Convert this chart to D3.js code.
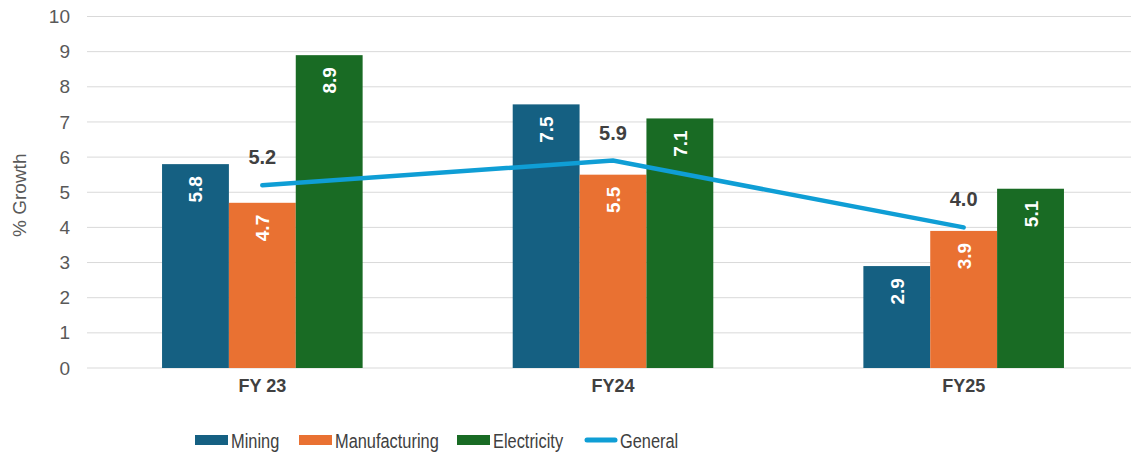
<!DOCTYPE html>
<html>
<head>
<meta charset="utf-8">
<script src="https://cdn.jsdelivr.net/npm/d3@7"></script>
<style>
  body { margin: 0; background: #fff; }
  svg { display: block; font-family: "Liberation Sans", Arial, sans-serif; }
</style>
</head>
<body>
<svg id="chart" width="1131" height="453"></svg>
<script>
// data
const categories = ["FY 23", "FY24", "FY25"];
const mining = [5.8, 7.5, 2.9];
const manufacturing = [4.7, 5.5, 3.9];
const electricity = [8.9, 7.1, 5.1];
const general = [5.2, 5.9, 4.0];
const yTicks = [0, 1, 2, 3, 4, 5, 6, 7, 8, 9, 10];

const series = [
  { name: "Mining", values: mining, color: "#156082" },
  { name: "Manufacturing", values: manufacturing, color: "#E97132" },
  { name: "Electricity", values: electricity, color: "#196B24" }
];
const lineColor = "#0F9ED5";

const svg = d3.select("#chart");
const width = 1131, height = 453;
const plot = { left: 87, right: 1139, top: 16.5, bottom: 368 };

// scales
const x = d3.scaleBand().domain(categories).range([plot.left, plot.right]).padding(0);
const step = x.bandwidth();
const xs = d3.scaleBand().domain(series.map(s => s.name))
  .range([step * 0.214, step * 0.786]).padding(0);
const y = d3.scaleLinear().domain([0, 10]).range([plot.bottom, plot.top]);

// gridlines
svg.append("g")
  .selectAll("line")
  .data(yTicks)
  .join("line")
  .attr("x1", plot.left)
  .attr("x2", width)
  .attr("y1", d => y(d))
  .attr("y2", d => y(d))
  .attr("stroke", "#d9d9d9")
  .attr("stroke-width", 1);

// y axis labels
svg.append("g")
  .attr("transform", `translate(${plot.left - 14},0)`)
  .call(d3.axisLeft(y).tickValues(yTicks).tickSize(0).tickFormat(d3.format("d")))
  .call(g => g.select(".domain").remove())
  .selectAll("text")
  .attr("fill", "#595959")
  .style("font-size", "19px")
  .style("font-family", "Liberation Sans, Arial, sans-serif");

svg.append("text")
  .attr("transform", `translate(26,${(plot.top + plot.bottom) / 2 + 3}) rotate(-90)`)
  .attr("text-anchor", "middle")
  .attr("fill", "#595959")
  .style("font-size", "19px")
  .text("% Growth");

// x axis labels
svg.append("g")
  .attr("transform", `translate(0,${plot.bottom + 8})`)
  .call(d3.axisBottom(x).tickSize(0))
  .call(g => g.select(".domain").remove())
  .selectAll("text")
  .attr("fill", "#404040")
  .style("font-size", "18px")
  .style("font-weight", "bold")
  .style("font-family", "Liberation Sans, Arial, sans-serif");

// bars
series.forEach(s => {
  const g = svg.append("g");
  g.selectAll("rect")
    .data(s.values)
    .join("rect")
    .attr("x", (d, i) => x(categories[i]) + xs(s.name))
    .attr("y", d => y(d))
    .attr("width", xs.bandwidth())
    .attr("height", d => y(0) - y(d))
    .attr("fill", s.color);
  g.selectAll("text")
    .data(s.values)
    .join("text")
    .attr("transform", (d, i) =>
      `translate(${x(categories[i]) + xs(s.name) + xs.bandwidth() / 2 + 7},${y(d) + 12}) rotate(-90)`)
    .attr("text-anchor", "end")
    .attr("fill", "#fff")
    .style("font-size", "19px")
    .style("font-weight", "bold")
    .text(d => d.toFixed(1));
});

// general line
const pts = general.map((v, i) => [x(categories[i]) + step / 2, y(v)]);
svg.append("path")
  .datum(pts)
  .attr("d", d3.line())
  .attr("fill", "none")
  .attr("stroke", lineColor)
  .attr("stroke-width", 4.5)
  .attr("stroke-linecap", "round");

svg.append("g")
  .selectAll("text")
  .data(general)
  .join("text")
  .attr("x", (d, i) => x(categories[i]) + step / 2)
  .attr("y", d => y(d) - 21)
  .attr("text-anchor", "middle")
  .attr("fill", "#404040")
  .style("font-size", "20px")
  .style("font-weight", "bold")
  .text(d => d.toFixed(1));

// legend
const legend = [
  { name: "Mining", color: series[0].color, type: "rect", x: 195 },
  { name: "Manufacturing", color: series[1].color, type: "rect", x: 299 },
  { name: "Electricity", color: series[2].color, type: "rect", x: 457 },
  { name: "General", color: lineColor, type: "line", x: 584 }
];
const lg = svg.append("g").attr("transform", "translate(0,440)");
legend.forEach(l => {
  if (l.type === "rect") {
    lg.append("rect").attr("x", l.x).attr("y", -5).attr("width", 33).attr("height", 10).attr("fill", l.color);
  } else {
    lg.append("line").attr("x1", l.x + 3).attr("x2", l.x + 31).attr("y1", 0).attr("y2", 0)
      .attr("stroke", l.color).attr("stroke-width", 5).attr("stroke-linecap", "round");
  }
  // condensed look of the original legend font
  lg.append("text")
    .attr("transform", `translate(${l.x + 36},7.5) scale(0.78,1)`)
    .attr("fill", "#404040")
    .style("font-size", "21px")
    .text(l.name);
});
</script>
</body>
</html>
